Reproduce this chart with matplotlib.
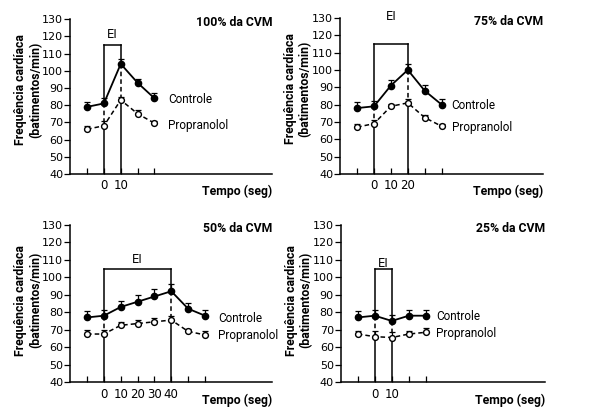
import matplotlib
matplotlib.use("Agg")
import matplotlib.pyplot as plt
from matplotlib import font_manager

# Tempos de medida (seg)
times_100 = [-10, 0, 10, 20, 30]
ctrl_100 = [79, 81, 104, 93, 84]
ctrl_100_err = [3, 3, 3, 2.5, 3]
prop_100 = [66, 68, 83, 75, 69.5]
prop_100_err = [2, 2.5, 2, 2, 1.5]

times_75 = [-10, 0, 10, 20, 30, 40]
ctrl_75 = [78, 79, 91, 100, 88, 80]
ctrl_75_err = [3.5, 3, 3, 3.5, 3.5, 3.5]
prop_75 = [67, 69, 79, 81, 72.5, 67.5]
prop_75_err = [2, 2, 1.5, 2, 1.5, 1.5]

times_50 = [-10, 0, 10, 20, 30, 40, 50, 60]
ctrl_50 = [77, 78, 83, 86, 89, 92, 82, 78]
ctrl_50_err = [3.5, 3.5, 3.5, 4, 4, 4, 3, 3]
prop_50 = [67.5, 67.5, 72.5, 73.5, 74.5, 75.5, 69, 67]
prop_50_err = [2.5, 2.5, 2, 2, 2, 2.5, 1.5, 2]

times_25 = [-10, 0, 10, 20, 30]
ctrl_25 = [77, 78, 75, 78, 78]
ctrl_25_err = [3.5, 3.5, 3.5, 3, 3.5]
prop_25 = [67.5, 66, 65.5, 67.5, 68.5]
prop_25_err = [2, 3, 3, 2, 2.5]

titles = ["100% da CVM", "75% da CVM", "50% da CVM", "25% da CVM"]
ei_end = [10, 20, 40, 10]
yticks = [40, 50, 60, 70, 80, 90, 100, 110, 120, 130]

panels = [
    dict(t=times_100, c=ctrl_100, ce=ctrl_100_err, p=prop_100, pe=prop_100_err,
         rect=[0.117, 0.584, 0.337, 0.370], top=115, ei_y=121, lx=38, cy=83, py=68, ly=0.545),
    dict(t=times_75, c=ctrl_75, ce=ctrl_75_err, p=prop_75, pe=prop_75_err,
         rect=[0.567, 0.584, 0.338, 0.373], top=115, ei_y=131, lx=46, cy=79.5, py=66.5, ly=0.545),
    dict(t=times_50, c=ctrl_50, ce=ctrl_50_err, p=prop_50, pe=prop_50_err,
         rect=[0.117, 0.086, 0.337, 0.376], top=105, ei_y=110, lx=68, cy=76.5, py=66.5, ly=0.52),
    dict(t=times_25, c=ctrl_25, ce=ctrl_25_err, p=prop_25, pe=prop_25_err,
         rect=[0.568, 0.086, 0.340, 0.376], top=105, ei_y=108, lx=36, cy=77.5, py=68, ly=0.52),
]

# fonte estreita se houver, senão Roboto
names = {f.name for f in font_manager.fontManager.ttflist}
narrow = "Liberation Sans Narrow" in names
lab_font = ["Liberation Sans Narrow"] if narrow else ["Roboto", "DejaVu Sans"]
fs_big = 10 if narrow else 8.8
fs_leg = 10 if narrow else 8.5

fig = plt.figure(figsize=(6, 4.18), dpi=100)

for i, pn in enumerate(panels):
    ax = fig.add_axes(pn["rect"])
    t = pn["t"]
    end = ei_end[i]

    # linhas do esforço isométrico (EI)
    for x0 in (0, end):
        k = t.index(x0)
        ax.plot([x0, x0], [pn["top"], pn["c"][k]], color="black", lw=1.1)
        ax.plot([x0, x0], [pn["c"][k], pn["p"][k]], color="black", lw=1.1, ls=(0, (3, 2)))
        ax.plot([x0, x0], [pn["p"][k], 40], color="black", lw=1.1)
    ax.plot([0, end], [pn["top"], pn["top"]], color="black", lw=1.1)
    ax.text(end / 2, pn["ei_y"], "EI", ha="center", va="center", fontsize=8.5)

    # Controle
    ax.errorbar(t, pn["c"], yerr=[[0] * len(t), pn["ce"]], color="black", lw=1.3,
                marker="o", ms=4.5, mfc="black", capsize=2, elinewidth=0.9, capthick=0.9)
    # Propranolol
    ax.errorbar(t, pn["p"], yerr=[[0] * len(t), pn["pe"]], color="black", lw=1.1,
                ls=(0, (3, 2)), marker="o", ms=4.2, mfc="white", capsize=2,
                elinewidth=0.9, capthick=0.9)

    ax.text(pn["lx"], pn["cy"], "Controle", ha="left", va="center", fontsize=fs_leg,
            family=lab_font)
    ax.text(pn["lx"], pn["py"], "Propranolol", ha="left", va="center", fontsize=fs_leg,
            family=lab_font)

    ax.set_xlim(-20, 100)
    ax.set_ylim(40, 130)
    ax.set_yticks(yticks)
    ax.set_xticks(t)
    ax.set_xticklabels([str(v) if 0 <= v <= end else "" for v in t])
    ax.tick_params(axis="y", direction="out", length=4, width=0.9, labelsize=8, pad=1)
    ax.tick_params(axis="x", direction="in", length=4, width=0.9, labelsize=8.5, pad=4)
    for s in ("top", "right"):
        ax.spines[s].set_visible(False)
    for s in ("left", "bottom"):
        ax.spines[s].set_linewidth(1.1)

    ax.text(100, 128, titles[i], ha="right", va="center", fontsize=fs_big,
            fontweight="bold", family=lab_font)
    ax.text(1.0, -0.115, "Tempo (seg)", transform=ax.transAxes, ha="right", va="center",
            fontsize=fs_big, fontweight="bold", family=lab_font)
    ax.set_ylabel("Frequência cardíaca\n(batimentos/min)", fontsize=fs_big, fontweight="bold",
                  family=lab_font, linespacing=1.15)
    ax.yaxis.set_label_coords(-0.14, pn["ly"])

fig.savefig("out.png", dpi=100)
